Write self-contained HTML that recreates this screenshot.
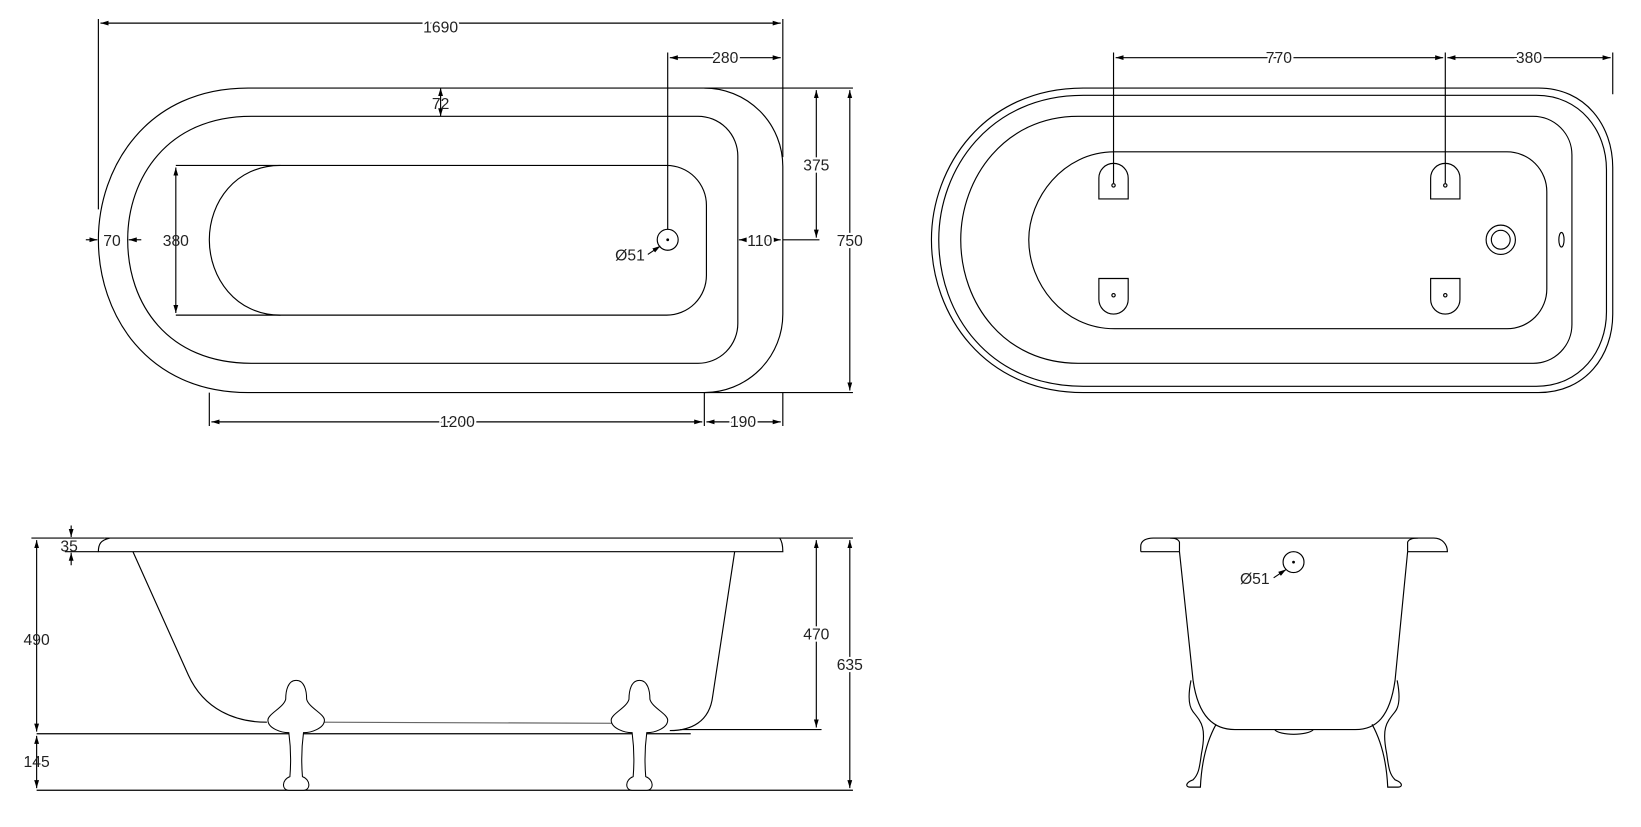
<!DOCTYPE html>
<html><head><meta charset="utf-8"><style>
html,body{margin:0;padding:0;background:#fff;}
svg{display:block;}
text{font-family:"Liberation Sans",sans-serif;font-size:15px;fill:#222;}
</style></head><body>
<svg width="1641" height="827" viewBox="0 0 1568 790" xmlns="http://www.w3.org/2000/svg">
<defs>
<marker id="a" viewBox="0 0 10 10" refX="10" refY="5" markerWidth="7" markerHeight="7" orient="auto-start-reverse"><path d="M0,2 L10,5 L0,8 z" fill="#000"/></marker>
<g id="foot" fill="#fff" stroke="#000" stroke-width="1">
<path d="M0,650 C-8,650 -10,660 -10,668 C-12,676 -27,682 -27,688 C-27,696 -14,700 -7,700 C-5,715 -5,730 -6,742 C-14,745 -14,755 -7,755 L7,755 C14,755 14,745 6,742 C5,730 5,715 7,700 C14,700 27,696 27,688 C27,682 12,676 10,668 C10,660 8,650 0,650 Z"/>
</g>
</defs>
<g fill="none" stroke="#000" stroke-width="1.1">
<!-- top-left plan -->
<path d="M237,84 L673,84 A75,75 0 0 1 748,159 L748,300 A75,75 0 0 1 673,375 L237,375 C140,375 94,300 94,229 C94,160 140,84 237,84 Z"/>
<path d="M240,111 L667,111 A38,38 0 0 1 705,149 L705,309 A38,38 0 0 1 667,347 L240,347 C160,347 122,290 122,229 C122,170 160,111 240,111 Z"/>
<path d="M268,158 L637,158 A38,38 0 0 1 675,196 L675,263 A38,38 0 0 1 637,301 L268,301 C225,301 200,265 200,229 C200,193 225,158 268,158 Z"/>
<circle cx="638" cy="229" r="10"/>
<circle cx="638" cy="229" r="0.8" fill="#000"/>
<path d="M168,158 L268,158 M168,301 L268,301"/>
<path d="M168,160 L168,299" marker-start="url(#a)" marker-end="url(#a)"/>
<path d="M94,18 L94,200 M748,18 L748,150 M638,50 L638,219"/>
<path d="M96,22 L746,22" marker-start="url(#a)" marker-end="url(#a)"/>
<path d="M640,55 L746,55" marker-start="url(#a)" marker-end="url(#a)"/>
<path d="M421,84 L421,111" marker-start="url(#a)" marker-end="url(#a)"/>
<path d="M82,229 L93,229" marker-end="url(#a)"/><path d="M135,229 L123,229" marker-end="url(#a)"/>
<path d="M706,229 L746,229" marker-start="url(#a)" marker-end="url(#a)"/>
<path d="M748,229 L783,229 M673,84 L815,84 M673,375 L815,375"/>
<path d="M780,86 L780,227" marker-start="url(#a)" marker-end="url(#a)"/>
<path d="M812,86 L812,373" marker-start="url(#a)" marker-end="url(#a)"/>
<path d="M200,375 L200,407 M673,375 L673,407 M748,375 L748,407"/>
<path d="M202,403 L671,403" marker-start="url(#a)" marker-end="url(#a)"/>
<path d="M675,403 L746,403" marker-start="url(#a)" marker-end="url(#a)"/>
<path d="M619,243 L631,235" marker-end="url(#a)"/>
<!-- top-right plan -->
<path d="M1035,84 L1470,84 C1515,84 1541,120 1541,160 L1541,300 C1541,340 1515,375 1470,375 L1035,375 C940,375 890,300 890,229 C890,160 940,84 1035,84 Z"/>
<path d="M1035,91 L1468,91 C1510,91 1535,125 1535,162 L1535,298 C1535,335 1510,369 1468,369 L1035,369 C945,369 897,300 897,229 C897,162 945,91 1035,91 Z"/>
<path d="M1030,111 L1465,111 A37,37 0 0 1 1502,148 L1502,310 A37,37 0 0 1 1465,347 L1030,347 C960,347 918,290 918,229 C918,170 960,111 1030,111 Z"/>
<path d="M1065,145 L1440,145 A38,38 0 0 1 1478,183 L1478,276 A38,38 0 0 1 1440,314 L1065,314 C1015,314 983,270 983,229 C983,190 1015,145 1065,145 Z"/>
<path d="M1050,190 L1050,170 A14,14 0 0 1 1078,170 L1078,190 Z"/>
<path d="M1367,190 L1367,170 A14,14 0 0 1 1395,170 L1395,190 Z"/>
<path d="M1050,266 L1050,286 A14,14 0 0 0 1078,286 L1078,266 Z"/>
<path d="M1367,266 L1367,286 A14,14 0 0 0 1395,286 L1395,266 Z"/>
<circle cx="1064" cy="177" r="1.6"/><circle cx="1381" cy="177" r="1.6"/>
<circle cx="1064" cy="282" r="1.6"/><circle cx="1381" cy="282" r="1.6"/>
<circle cx="1434" cy="229" r="14"/><circle cx="1434" cy="229" r="9"/>
<ellipse cx="1492" cy="229" rx="2.5" ry="7"/>
<path d="M1064,50 L1064,175 M1381,50 L1381,175 M1541,50 L1541,90"/>
<path d="M1066,55 L1379,55" marker-start="url(#a)" marker-end="url(#a)"/>
<path d="M1383,55 L1539,55" marker-start="url(#a)" marker-end="url(#a)"/>
<!-- bottom-left side -->
<path d="M100,514 L745,514 C748,518 748,524 748,527 L94,527 C94,520 96,516 105,514"/>
<path d="M127,527 L180,645 C195,678 225,690 255,690"/>
<path d="M308,690 L592,691" stroke="#666"/>
<path d="M702,527 L681,665 C678,690 660,698 640,698"/>
<path d="M35,701 L660,701 M35,755 L815,755"/>
<path d="M745,514 L815,514 M650,697 L785,697 M30,514 L100,514"/>
<path d="M35,516 L35,699" marker-start="url(#a)" marker-end="url(#a)"/>
<path d="M35,703 L35,753" marker-start="url(#a)" marker-end="url(#a)"/>
<path d="M780,516 L780,695" marker-start="url(#a)" marker-end="url(#a)"/>
<path d="M812,516 L812,753" marker-start="url(#a)" marker-end="url(#a)"/>
<path d="M68,502 L68,513" marker-end="url(#a)"/><path d="M68,540 L68,528" marker-end="url(#a)"/>
<path d="M62,527 L94,527"/>
<!-- bottom-right end -->
<path d="M1090,527 L1090,522 C1090,516 1096,514 1102,514 L1370,514 C1378,514 1383,520 1383,527 L1345,527 M1127,527 L1090,527"/>
<path d="M1127,527 L1127,518 C1126,515 1122,514 1118,514"/>
<path d="M1345,527 L1345,518 C1346,515 1350,514 1355,514"/>
<path d="M1127,527 L1140,650 C1145,685 1160,697 1180,697 L1295,697 C1315,697 1328,685 1333,650 L1345,527"/>
<path d="M1218,697 C1222,703 1250,703 1255,697"/>
<path d="M1138,650 C1135,665 1136,675 1140,680 C1148,690 1153,695 1148,720 C1146,735 1145,740 1140,745 C1132,748 1133,752 1137,752 L1147,752 C1148,730 1152,710 1162,692"/>
<path d="M1335,650 C1338,665 1337,675 1333,680 C1325,690 1320,695 1325,720 C1327,735 1328,740 1333,745 C1341,748 1340,752 1336,752 L1326,752 C1325,730 1321,710 1311,692"/>
<circle cx="1236" cy="537" r="10"/><circle cx="1236" cy="537" r="0.8" fill="#000"/>
<path d="M1217,552 L1229,544" marker-end="url(#a)"/>
</g>
<use href="#foot" x="283"/>
<use href="#foot" x="611"/>
<g fill="#222">
<text x="421" y="31" text-anchor="middle" style="paint-order:stroke" stroke="#fff" stroke-width="4">1690</text>
<text x="693" y="60" text-anchor="middle" stroke="#fff" stroke-width="4" style="paint-order:stroke">280</text>
<text x="421" y="104" text-anchor="middle">72</text>
<text x="107" y="235" text-anchor="middle" stroke="#fff" stroke-width="4" style="paint-order:stroke">70</text>
<text x="168" y="235" text-anchor="middle">380</text>
<text x="726" y="235" text-anchor="middle" stroke="#fff" stroke-width="4" style="paint-order:stroke">110</text>
<text x="780" y="163" text-anchor="middle" stroke="#fff" stroke-width="4" style="paint-order:stroke">375</text>
<text x="812" y="235" text-anchor="middle" stroke="#fff" stroke-width="4" style="paint-order:stroke">750</text>
<text x="602" y="249" text-anchor="middle">Ø51</text>
<text x="437" y="408" text-anchor="middle" stroke="#fff" stroke-width="4" style="paint-order:stroke">1200</text>
<text x="710" y="408" text-anchor="middle" stroke="#fff" stroke-width="4" style="paint-order:stroke">190</text>
<text x="1222" y="60" text-anchor="middle" stroke="#fff" stroke-width="4" style="paint-order:stroke">770</text>
<text x="1461" y="60" text-anchor="middle" stroke="#fff" stroke-width="4" style="paint-order:stroke">380</text>
<text x="66" y="527" text-anchor="middle">35</text>
<text x="35" y="616" text-anchor="middle">490</text>
<text x="35" y="733" text-anchor="middle">145</text>
<text x="780" y="611" text-anchor="middle" stroke="#fff" stroke-width="4" style="paint-order:stroke">470</text>
<text x="812" y="640" text-anchor="middle" stroke="#fff" stroke-width="4" style="paint-order:stroke">635</text>
<text x="1199" y="558" text-anchor="middle">Ø51</text>
</g>
</svg>
</body></html>
